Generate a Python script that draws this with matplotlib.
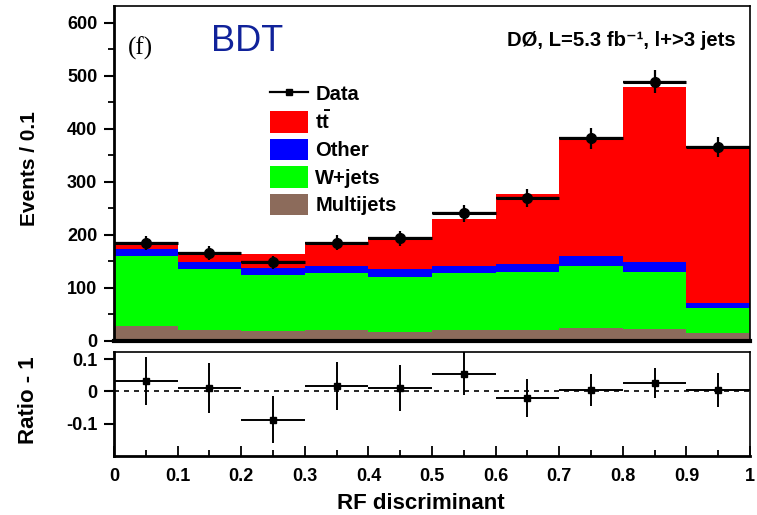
import numpy as np
import matplotlib
matplotlib.use("Agg")
import matplotlib.pyplot as plt
from matplotlib.lines import Line2D
from matplotlib.patches import Patch

plt.rcParams['font.family'] = ['Liberation Sans', 'DejaVu Sans']
plt.rcParams['mathtext.fontset'] = 'custom'
plt.rcParams['mathtext.rm'] = 'Liberation Sans'
plt.rcParams['mathtext.bf'] = 'Liberation Sans:bold'
plt.rcParams['mathtext.it'] = 'Liberation Sans:italic'

bin_edges = [0.0, 0.1, 0.2, 0.3, 0.4, 0.5, 0.6, 0.7, 0.8, 0.9, 1.0]
multijets = [28, 21, 19, 20, 17, 21, 21, 24.5, 22.5, 15]
wjets = [132, 114, 104, 107, 104, 106, 108, 115.5, 106.5, 46]
other = [13, 13, 13.5, 13, 14, 14.5, 16, 19, 19, 11]
ttbar = [7.5, 17, 27, 44, 61, 88, 132, 223, 331, 293]
data = [184, 165, 148, 185, 193, 240, 269, 382, 489, 365]
ratio = [0.033, 0.010, -0.088, 0.0175, 0.011, 0.054, -0.021, 0.005, 0.025, 0.004]
ratio_err = [0.075, 0.077, 0.074, 0.074, 0.071, 0.067, 0.059, 0.050, 0.046, 0.052]
xticks = [0, 0.1, 0.2, 0.3, 0.4, 0.5, 0.6, 0.7, 0.8, 0.9, 1]
xticklabels = ['0', '0.1', '0.2', '0.3', '0.4', '0.5', '0.6', '0.7', '0.8', '0.9', '1']

edges = np.array(bin_edges)
centers = 0.5 * (edges[:-1] + edges[1:])
halfw = 0.5 * np.diff(edges)

fig = plt.figure(figsize=(7.57, 5.15), dpi=100)
ax = fig.add_axes([0.1506, 0.3385, 0.8402, 0.6498])
axr = fig.add_axes([0.1506, 0.1151, 0.8402, 0.2020])

colors = {'Multijets': '#8c6b5b', 'W+jets': '#00ff00', 'Other': '#0000ff', 'tt': '#ff0000'}
bottom = np.zeros(len(centers))
for vals, c in [(multijets, colors['Multijets']), (wjets, colors['W+jets']),
                (other, colors['Other']), (ttbar, colors['tt'])]:
    v = np.array(vals, float)
    ax.bar(edges[:-1], v, width=np.diff(edges), bottom=bottom, align='edge',
           color=c, linewidth=0)
    bottom = bottom + v

d = np.array(data, float)
ax.errorbar(centers, d, xerr=halfw, yerr=np.sqrt(d), fmt='o', color='black',
            ms=7, elinewidth=1.6, capsize=0, zorder=5)
ax.hlines(d, edges[:-1], edges[1:], color='black', lw=2.2, zorder=5)

ax.set_xlim(0, 1)
ax.set_ylim(0, 631.5)
ax.set_yticks([0, 100, 200, 300, 400, 500, 600])
ax.set_yticks(np.arange(50, 631, 100), minor=True)
ax.set_xticks([])
ax.tick_params(axis='y', which='major', direction='out', length=7, width=1.5,
               labelsize=13, pad=5)
ax.tick_params(axis='y', which='minor', direction='out', length=4, width=1.3)
for lab in ax.get_yticklabels():
    lab.set_fontweight('bold')
ax.spines['left'].set_linewidth(2)
ax.spines['bottom'].set_linewidth(3)
ax.spines['top'].set_linewidth(1.2)
ax.spines['right'].set_linewidth(1.2)
ax.set_ylabel('Events / 0.1', fontsize=15, fontweight='bold')
ax.yaxis.set_label_coords(-0.118, 0.515)

ax.text(0.022, 0.875, '(f)', transform=ax.transAxes, fontsize=18,
        family='Liberation Serif', va='center', ha='left')
ax.text(0.152, 0.893, 'BDT', transform=ax.transAxes, fontsize=26,
        color='#10229a', va='center', ha='left')
ax.text(0.977, 0.898, 'DØ, L=5.3 fb⁻¹, l+>3 jets', transform=ax.transAxes,
        fontsize=14.6, fontweight='bold', va='center', ha='right')

handles = [Line2D([0], [0], color='black', marker='s', ms=5, lw=1.6),
           Patch(facecolor=colors['tt']), Patch(facecolor=colors['Other']),
           Patch(facecolor=colors['W+jets']), Patch(facecolor=colors['Multijets'])]
labels = ['Data', r'$\mathbf{t\bar{t}}$', 'Other', 'W+jets', 'Multijets']
leg = ax.legend(handles, labels, loc='upper left', bbox_to_anchor=(0.245, 0.77),
                frameon=False, prop={'weight': 'bold', 'size': 14.5},
                handlelength=1.9, handleheight=1.25, labelspacing=0.3,
                handletextpad=0.35, borderpad=0, borderaxespad=0)

# Ratio panel
axr.axhline(0, color='black', lw=1.2, ls=(0, (3, 3)))
axr.errorbar(centers, ratio, xerr=halfw, yerr=ratio_err, fmt='s', color='black',
             ms=4.5, elinewidth=1.4, capsize=0)
axr.set_xlim(0, 1)
axr.set_ylim(-0.2, 0.123)
axr.set_yticks([-0.1, 0, 0.1])
axr.set_yticklabels(['-0.1', '0', '0.1'])
axr.set_xticks(xticks)
axr.set_xticklabels(xticklabels)
axr.set_xticks(np.arange(0.05, 1.0, 0.1), minor=True)
axr.tick_params(axis='x', which='major', direction='in', length=7, width=1.3,
                labelsize=13, pad=9)
axr.tick_params(axis='x', which='minor', direction='in', length=4, width=1.3)
axr.tick_params(axis='y', which='major', direction='out', length=7, width=1.5,
                labelsize=13, pad=5)
for lab in axr.get_xticklabels() + axr.get_yticklabels():
    lab.set_fontweight('bold')
for s in axr.spines.values():
    s.set_linewidth(1.2)
axr.spines['left'].set_linewidth(2)
axr.spines['bottom'].set_linewidth(2)
axr.set_ylabel('Ratio - 1', fontsize=16, fontweight='bold')
axr.yaxis.set_label_coords(-0.118, 0.535)
axr.set_xlabel('RF discriminant', fontsize=16, fontweight='bold')
axr.xaxis.set_label_coords(0.483, -0.36)

fig.savefig('out.png', dpi=100)
